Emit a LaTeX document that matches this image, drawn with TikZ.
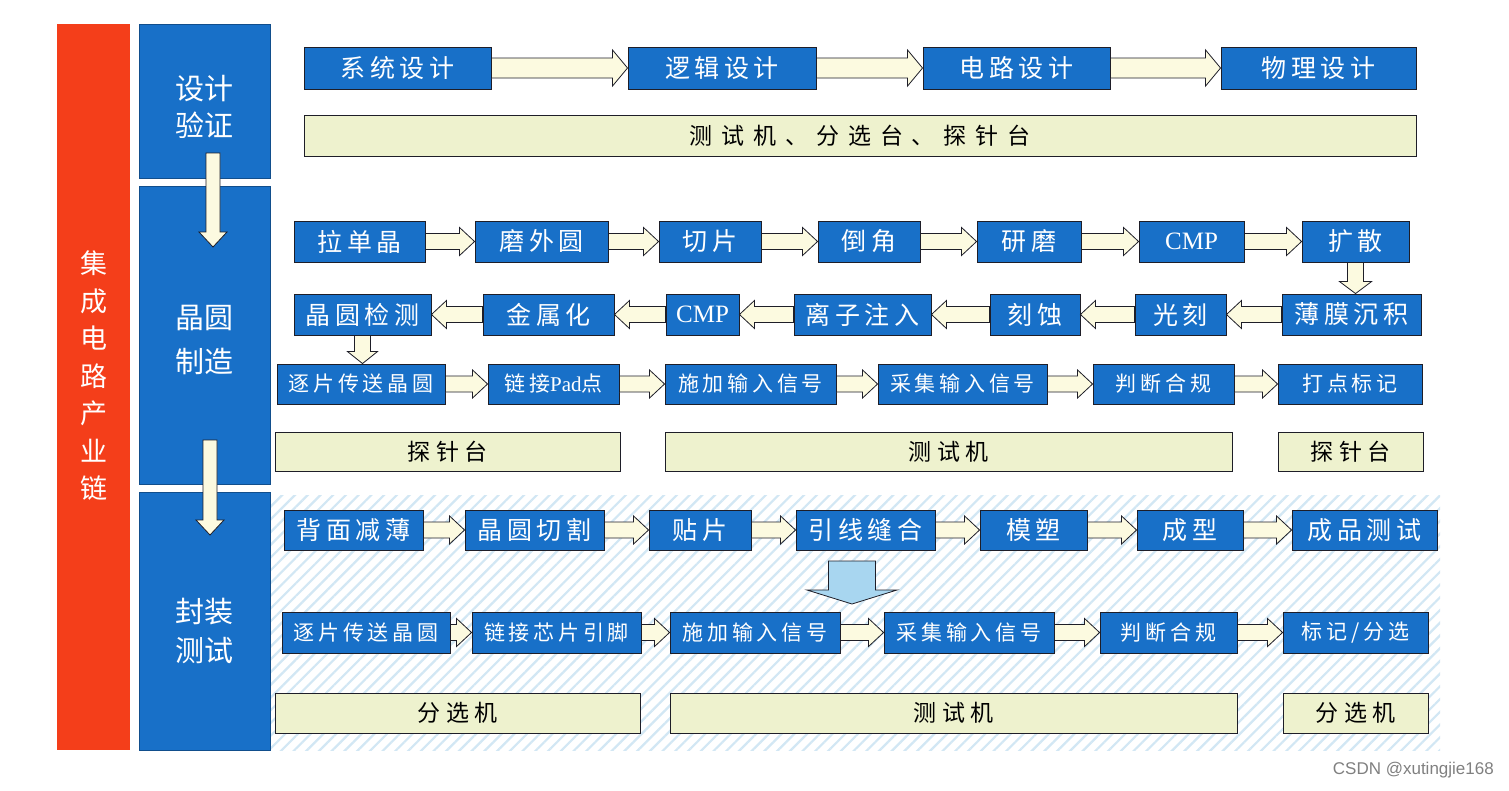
\documentclass[tikz,border=0pt]{standalone}
\usepackage{fontspec}
\setmainfont{Noto Sans CJK SC}
\newfontfamily\cjkls[LetterSpace=18]{Noto Sans CJK SC}
\newfontfamily\cjkbar[LetterSpace=25]{Noto Sans CJK SC}
\newfontfamily\cjkwide[LetterSpace=38]{Noto Sans CJK SC}
\newfontfamily\lser{Liberation Serif}
\newfontfamily\wmfont{Liberation Sans}
\usetikzlibrary{calc,patterns.meta}

\definecolor{boxblue}{RGB}{24,112,200}
\definecolor{sidered}{RGB}{244,62,26}
\definecolor{barfill}{RGB}{238,242,206}
\definecolor{arrowfill}{RGB}{252,250,224}
\definecolor{hatchcol}{RGB}{210,231,244}
\definecolor{bigarrow}{RGB}{168,214,240}
\definecolor{edge}{RGB}{30,30,40}

\tikzset{
  bbox/.style={fill=boxblue, draw=edge, line width=0.9pt, text=white, inner sep=0pt,
    font=\cjkls\fontsize{25}{30}\selectfont},
  sbox/.style={bbox, font=\cjkls\fontsize{21}{26}\selectfont},
  barbox/.style={fill=barfill, draw=edge, line width=0.9pt, text=black, inner sep=0pt,
    font=\cjkbar\fontsize{23}{28}\selectfont},
  sidebox/.style={fill=boxblue, draw=boxblue!70!black, line width=0.6pt, inner sep=0pt},
  sidetext/.style={text=white, align=center, inner sep=0pt},
  blockarrow/.style={fill=arrowfill, draw=edge, line width=0.8pt, line join=miter},
  bigblock/.style={fill=bigarrow, draw=edge, line width=0.8pt, line join=miter},
}

% right-pointing block arrow: from, to, shaft half, head half
\newcommand\rarr[4]{%
  \draw[blockarrow] let \p1=(#1), \p2=(#2) in
    (\x1,\y1+#3pt) -- (\x2-15pt,\y1+#3pt) -- (\x2-15pt,\y1+#4pt) -- (\x2,\y1)
    -- (\x2-15pt,\y1-#4pt) -- (\x2-15pt,\y1-#3pt) -- (\x1,\y1-#3pt) -- cycle;}
% left-pointing block arrow
\newcommand\larr[4]{%
  \draw[blockarrow] let \p1=(#1), \p2=(#2) in
    (\x1,\y1+#3pt) -- (\x2+15pt,\y1+#3pt) -- (\x2+15pt,\y1+#4pt) -- (\x2,\y1)
    -- (\x2+15pt,\y1-#4pt) -- (\x2+15pt,\y1-#3pt) -- (\x1,\y1-#3pt) -- cycle;}
% down-pointing block arrow: style, from, to, shaft half, head half, head length
\newcommand\darr[6]{%
  \draw[#1] let \p1=(#2), \p2=(#3) in
    (\x1-#4pt,\y1) -- (\x1-#4pt,\y2+#6pt) -- (\x1-#5pt,\y2+#6pt) -- (\x1,\y2)
    -- (\x1+#5pt,\y2+#6pt) -- (\x1+#4pt,\y2+#6pt) -- (\x1+#4pt,\y1) -- cycle;}

\begin{document}
\begin{tikzpicture}[x=1pt,y=-1pt]
\useasboundingbox (0,0) rectangle (1509,790);
\fill[white] (0,0) rectangle (1509,790);

% hatched background of the packaging section
\path[pattern={Lines[angle=45,distance=9pt,line width=2.2pt]}, pattern color=hatchcol]
  (270,495) rectangle (1440,750);

% left column
\node[fill=sidered, inner sep=0pt, minimum width=73pt, minimum height=726pt] (chain) at (93.5,387) {};
\node[sidetext, font=\fontsize{27}{37.5}\selectfont] (chaint) at (93.5,376)
  {集\\成\\电\\路\\产\\业\\链};

\node[sidebox, minimum width=131pt, minimum height=154pt] (dv) at (204.5,101) {};
\node[sidetext, font=\fontsize{29}{37}\selectfont] (dvt) at (204.5,106.5) {设计\\验证};
\node[sidebox, minimum width=131pt, minimum height=298pt] (jy) at (204.5,335) {};
\node[sidetext, font=\fontsize{29}{44}\selectfont] (jyt) at (204.5,340) {晶圆\\制造};
\node[sidebox, minimum width=131pt, minimum height=258pt] (fz) at (204.5,621) {};
\node[sidetext, font=\fontsize{29}{39}\selectfont] (fzt) at (204.5,631) {封装\\测试};

\coordinate (v1s) at (213,153);
\coordinate (v1e) at (213,247);
\coordinate (v2s) at (210,440);
\coordinate (v2e) at (210,535);
\darr{blockarrow}{v1s}{v1e}{7}{14}{15}
\darr{blockarrow}{v2s}{v2e}{7}{14}{15}

% row 1: design
\node[bbox, minimum width=187pt, minimum height=42pt] (s1) at (397.5,68) {系统设计};
\node[bbox, minimum width=188pt, minimum height=42pt] (s2) at (722,68) {逻辑设计};
\node[bbox, minimum width=187pt, minimum height=42pt] (s3) at (1016.5,68) {电路设计};
\node[bbox, minimum width=195pt, minimum height=42pt] (s4) at (1318.5,68) {物理设计};
\rarr{s1.east}{s2.west}{10}{18}
\rarr{s2.east}{s3.west}{10}{18}
\rarr{s3.east}{s4.west}{10}{18}
\node[barbox, font=\cjkwide\fontsize{23}{28}\selectfont, minimum width=1112pt, minimum height=41pt] (b1) at (860,135.5)
  {测试机、分选台、探针台};

% row 2: wafer manufacturing
\node[bbox, minimum width=131pt, minimum height=41pt] (a1) at (359.5,241.5) {拉单晶};
\node[bbox, minimum width=133pt, minimum height=41pt] (a2) at (541.5,241.5) {磨外圆};
\node[bbox, minimum width=102pt, minimum height=41pt] (a3) at (710,241.5) {切片};
\node[bbox, minimum width=102pt, minimum height=41pt] (a4) at (869,241.5) {倒角};
\node[bbox, minimum width=104pt, minimum height=41pt] (a5) at (1029,241.5) {研磨};
\node[bbox, minimum width=105pt, minimum height=41pt] (a6) at (1191.5,241.5) {\lser CMP};
\node[bbox, minimum width=107pt, minimum height=41pt] (a7) at (1355.5,241.5) {扩散};
\rarr{a1.east}{a2.west}{8}{14}
\rarr{a2.east}{a3.west}{8}{14}
\rarr{a3.east}{a4.west}{8}{14}
\rarr{a4.east}{a5.west}{8}{14}
\rarr{a5.east}{a6.west}{8}{14}
\rarr{a6.east}{a7.west}{8}{14}

% row 3
\node[bbox, minimum width=137pt, minimum height=41pt] (c1) at (362.5,314.5) {晶圆检测};
\node[bbox, minimum width=131pt, minimum height=41pt] (c2) at (548.5,314.5) {金属化};
\node[bbox, minimum width=73pt, minimum height=41pt] (c3) at (702.5,314.5) {\lser CMP};
\node[bbox, minimum width=137pt, minimum height=41pt] (c4) at (862.5,314.5) {离子注入};
\node[bbox, minimum width=90pt, minimum height=41pt] (c5) at (1035,314.5) {刻蚀};
\node[bbox, minimum width=91pt, minimum height=41pt] (c6) at (1180.5,314.5) {光刻};
\node[bbox, minimum width=139pt, minimum height=41pt] (c7) at (1351.5,314.5) {薄膜沉积};
\darr{blockarrow}{a7.south}{a7.south |- c7.north}{8}{16}{12}
\larr{c7.west}{c6.east}{8}{14}
\larr{c6.west}{c5.east}{8}{14}
\larr{c5.west}{c4.east}{8}{14}
\larr{c4.west}{c3.east}{8}{14}
\larr{c3.west}{c2.east}{8}{14}
\larr{c2.west}{c1.east}{8}{14}

% row 4: wafer test
\node[sbox, minimum width=168pt, minimum height=40pt] (d1) at (361,384) {逐片传送晶圆};
\node[sbox, minimum width=131pt, minimum height=40pt] (d2) at (553.5,384) {链接{\lser Pad}点};
\node[sbox, minimum width=171pt, minimum height=40pt] (d3) at (750.5,384) {施加输入信号};
\node[sbox, minimum width=169pt, minimum height=40pt] (d4) at (962.5,384) {采集输入信号};
\node[sbox, minimum width=141pt, minimum height=40pt] (d5) at (1163.5,384) {判断合规};
\node[sbox, minimum width=144pt, minimum height=40pt] (d6) at (1350,384) {打点标记};
\darr{blockarrow}{c1.south}{c1.south |- d1.north}{8}{15}{12}
\rarr{d1.east}{d2.west}{8}{14}
\rarr{d2.east}{d3.west}{8}{14}
\rarr{d3.east}{d4.west}{8}{14}
\rarr{d4.east}{d5.west}{8}{14}
\rarr{d5.east}{d6.west}{8}{14}

% row 5: equipment
\node[barbox, minimum width=345pt, minimum height=39pt] (e1) at (447.5,451.5) {探针台};
\node[barbox, minimum width=567pt, minimum height=39pt] (e2) at (948.5,451.5) {测试机};
\node[barbox, minimum width=145pt, minimum height=39pt] (e3) at (1350.5,451.5) {探针台};

% row 6: packaging
\node[bbox, minimum width=139pt, minimum height=40pt] (f1) at (353.5,530) {背面减薄};
\node[bbox, minimum width=139pt, minimum height=40pt] (f2) at (534.5,530) {晶圆切割};
\node[bbox, minimum width=102pt, minimum height=40pt] (f3) at (700,530) {贴片};
\node[bbox, minimum width=139pt, minimum height=40pt] (f4) at (865.5,530) {引线缝合};
\node[bbox, minimum width=107pt, minimum height=40pt] (f5) at (1033.5,530) {模塑};
\node[bbox, minimum width=106pt, minimum height=40pt] (f6) at (1190,530) {成型};
\node[bbox, minimum width=145pt, minimum height=40pt] (f7) at (1364.5,530) {成品测试};
\rarr{f1.east}{f2.west}{8}{14}
\rarr{f2.east}{f3.west}{8}{14}
\rarr{f3.east}{f4.west}{8}{14}
\rarr{f4.east}{f5.west}{8}{14}
\rarr{f5.east}{f6.west}{8}{14}
\rarr{f6.east}{f7.west}{8}{14}

% big arrow
\coordinate (bigtop) at (852,561);
\coordinate (bigtip) at (852,604);
\darr{bigblock}{bigtop}{bigtip}{23.5}{45}{14}

% row 7: final test
\node[sbox, minimum width=168pt, minimum height=41pt] (g1) at (366,632.5) {逐片传送晶圆};
\node[sbox, minimum width=169pt, minimum height=41pt] (g2) at (556.5,632.5) {链接芯片引脚};
\node[sbox, minimum width=170pt, minimum height=41pt] (g3) at (755,632.5) {施加输入信号};
\node[sbox, minimum width=170pt, minimum height=41pt] (g4) at (969,632.5) {采集输入信号};
\node[sbox, minimum width=137pt, minimum height=41pt] (g5) at (1168.5,632.5) {判断合规};
\node[sbox, minimum width=145pt, minimum height=41pt] (g6) at (1355.5,632.5) {标记/分选};
\rarr{g1.east}{g2.west}{8}{14}
\rarr{g2.east}{g3.west}{8}{14}
\rarr{g3.east}{g4.west}{8}{14}
\rarr{g4.east}{g5.west}{8}{14}
\rarr{g5.east}{g6.west}{8}{14}

% row 8: equipment
\node[barbox, minimum width=365pt, minimum height=40pt] (h1) at (457.5,713) {分选机};
\node[barbox, minimum width=567pt, minimum height=40pt] (h2) at (953.5,713) {测试机};
\node[barbox, minimum width=145pt, minimum height=40pt] (h3) at (1355.5,713) {分选机};

% watermark
\node[anchor=east, text=black!50, font=\wmfont\fontsize{17}{20}\selectfont, inner sep=0pt] (wm) at (1494,770) {CSDN @xutingjie168};
\end{tikzpicture}
\end{document}
